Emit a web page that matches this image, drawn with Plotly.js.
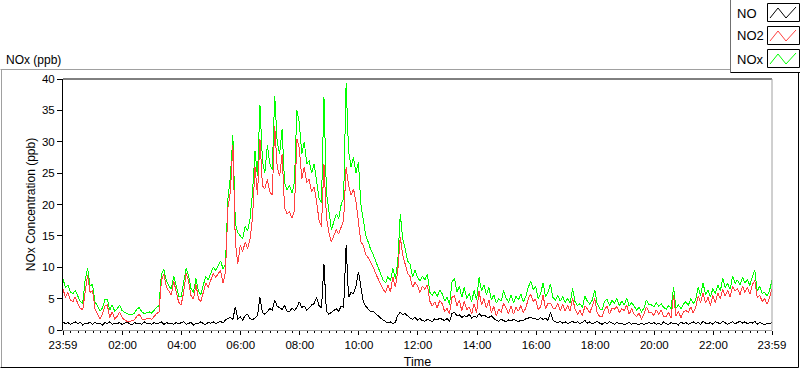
<!DOCTYPE html>
<html>
<head>
<meta charset="utf-8">
<script src="https://cdn.plot.ly/plotly-3.0.1.min.js"></script>
<style>html,body{margin:0;padding:0;background:#fff;}#chart{width:800px;height:369px;}
#chart .scatterlayer path{shape-rendering:crispEdges;}</style>
</head>
<body>
<div id="chart"></div>
<script>
// Sampling grid: minutes from midnight, first sample at 23:59 of the previous day, every 5 minutes
const startMinute = -1;
const stepMinutes = 5;

// NO (ppb)
const no = [
1.3,1.0,1.2,0.9,1.1,1.3,1.0,1.2,0.8,1.1,1.0,1.3,0.9,1.2,1.0,1.1,0.8,1.2,1.0,1.3,0.9,1.1,1.0,1.2,0.9,1.1,1.3,1.0,0.8,1.2,1.0,1.1,0.9,1.3,1.0,1.1,0.9,1.2,1.0,1.1,1.3,0.9,1.2,1.0,1.1,0.9,1.2,1.0,
1.1,1.3,0.9,1.0,1.2,0.8,1.1,1.0,1.3,1.0,0.9,1.2,1.1,1.3,1.0,1.2,1.4,1.1,1.6,1.8,2.0,1.7,3.7,1.8,2.1,1.6,2.3,2.5,1.8,1.6,2.0,2.3,5.2,2.8,2.5,3.0,3.4,3.2,4.8,3.8,3.6,3.3,3.9,3.0,2.9,3.5,3.1,3.6,
4.5,3.6,3.8,3.2,3.5,4.0,4.2,5.2,3.9,3.5,10.5,3.0,2.5,2.8,3.1,3.4,3.0,3.8,3.6,13.5,5.2,6.0,5.8,7.0,9.3,6.5,4.5,3.8,3.3,2.9,3.0,2.6,2.2,1.9,1.6,1.3,1.1,1.3,1.0,1.2,2.4,2.8,2.5,2.6,2.2,1.9,1.7,2.0,
1.6,1.8,1.5,1.4,1.7,1.5,1.3,1.8,1.6,1.9,1.7,1.5,1.8,1.4,2.6,2.8,2.3,2.4,2.0,2.3,2.1,2.5,1.9,2.2,2.0,2.6,2.2,2.4,2.1,2.0,2.3,1.8,1.6,1.4,1.7,1.5,1.3,1.6,1.4,1.7,1.5,1.3,1.6,1.5,1.8,1.9,2.0,1.8,
1.8,1.6,2.0,1.7,1.9,1.5,2.8,1.6,1.3,1.2,1.4,1.1,1.3,1.0,1.2,1.4,1.1,1.3,1.0,1.2,1.5,1.1,1.3,1.0,1.2,1.4,1.1,0.9,1.2,1.0,1.3,1.1,0.9,1.2,1.0,1.1,0.8,1.0,1.2,0.9,1.1,1.0,0.8,1.1,0.9,1.0,1.2,
1.0,1.2,0.9,1.1,0.8,1.3,1.0,0.9,1.2,1.0,1.1,0.8,1.3,1.0,1.2,0.9,1.1,1.3,1.0,1.2,0.9,1.4,1.1,1.0,1.2,0.9,1.3,1.1,1.0,1.4,1.2,0.9,1.1,1.3,1.0,1.2,1.4,1.1,1.3,1.0,1.2,1.1,1.4,0.9,1.2,1.0,0.8,1.1,1.0,1.2
];

// NO2 (ppb)
const no2 = [
6.5,5.2,6.0,4.8,4.5,5.3,4.2,3.5,3.2,6.2,8.8,6.0,6.3,3.4,2.6,1.8,2.5,3.8,4.0,2.0,2.9,1.7,2.2,2.9,2.0,1.6,1.4,1.3,1.5,1.6,2.2,2.5,1.8,1.6,1.8,1.9,1.7,2.2,2.6,2.9,8.0,8.9,6.8,6.2,5.6,7.8,5.9,4.4,
4.0,6.0,9.0,7.8,5.5,4.9,7.3,5.0,4.5,6.0,7.5,6.8,8.0,9.0,8.4,9.0,9.5,7.5,9.2,19.5,22.0,29.5,14.0,10.5,13.5,12.5,14.0,13.0,14.5,18.0,26.0,21.5,30.5,23.0,22.5,24.0,22.0,21.5,32.5,26.0,24.5,28.0,19.5,18.5,18.8,17.8,19.0,30.5,
29.0,24.0,26.0,23.5,24.0,22.0,22.8,20.5,17.5,16.5,26.5,18.0,15.5,14.0,15.0,16.0,15.3,16.5,17.5,26.0,23.0,21.5,22.5,20.5,17.0,14.0,13.5,12.0,11.5,10.8,10.0,9.0,8.2,7.5,6.5,6.0,7.2,6.0,8.5,6.8,9.5,14.8,12.0,10.5,9.0,8.5,6.8,7.6,
7.0,6.0,7.0,6.5,7.2,4.6,3.8,4.5,3.5,4.7,4.2,3.0,3.4,2.6,5.2,5.5,3.8,4.8,3.0,4.6,3.2,3.7,2.5,4.2,2.8,6.2,4.0,5.0,3.5,4.8,2.7,3.8,2.2,3.3,2.8,4.3,3.3,2.6,3.8,2.5,3.6,3.0,3.9,2.8,3.5,5.0,5.7,4.6,
4.9,3.3,3.7,5.6,3.3,4.3,4.3,3.5,3.4,4.2,3.1,4.1,3.0,3.9,3.0,5.1,3.3,2.5,3.1,2.3,3.8,3.4,2.7,3.7,5.0,2.7,2.2,2.2,3.3,3.8,2.5,3.5,3.3,3.7,2.8,3.4,3.1,4.0,2.5,3.4,2.5,2.1,2.7,1.7,2.5,3.7,2.8,
2.8,2.3,3.2,2.5,3.2,2.1,2.1,2.8,1.9,5.6,2.2,3.0,1.9,2.9,3.1,2.8,3.7,2.7,3.6,5.4,4.4,5.9,4.3,5.2,3.9,5.5,4.3,5.9,5.0,6.5,5.4,6.3,5.2,7.0,6.2,6.6,5.6,7.0,6.0,6.8,5.7,7.2,7.9,5.1,5.6,4.5,5.0,4.1,5.1,6.6
];

// NOx (ppb)
const nox = [
8.1,6.8,7.2,6.0,5.8,6.3,5.4,4.6,4.2,8.0,9.9,7.0,7.3,4.5,3.8,3.0,3.5,4.8,4.9,3.2,4.0,3.0,3.4,3.9,3.1,2.8,2.6,2.5,2.4,2.7,3.3,3.6,2.9,2.6,2.8,2.9,2.7,3.2,3.6,3.9,9.0,9.6,7.8,7.0,6.5,8.6,6.8,5.4,
5.3,7.5,9.8,8.7,6.6,6.0,8.2,6.2,5.6,7.2,8.5,8.0,9.0,10.0,9.5,10.2,11.0,9.8,10.5,21.0,24.4,31.0,17.0,15.5,15.0,14.5,16.5,15.8,17.8,22.0,28.5,24.5,35.9,27.0,25.0,29.5,26.5,25.5,37.3,30.0,28.0,32.0,23.5,22.3,23.0,21.8,23.5,35.0,
33.0,28.0,30.0,26.5,27.0,25.0,26.5,24.0,21.0,20.2,37.2,22.0,18.5,16.0,17.2,18.5,17.8,20.0,21.0,39.3,28.5,26.0,27.5,25.0,26.8,20.0,17.5,15.0,14.0,12.8,12.0,11.0,9.8,9.0,8.0,7.5,8.5,7.8,9.8,8.2,11.0,18.5,14.5,13.0,11.0,10.5,8.5,9.5,
8.4,7.8,8.6,8.0,8.9,6.0,5.5,6.2,5.3,6.4,5.8,4.6,5.2,4.0,7.6,8.3,6.0,7.0,5.2,6.8,5.0,5.8,4.5,6.3,4.8,8.4,6.2,7.2,5.6,6.8,4.8,5.6,4.3,5.0,4.6,6.3,5.1,4.4,5.6,4.3,5.4,4.8,5.7,4.5,5.3,6.8,7.8,6.5,
6.9,5.0,5.8,7.5,5.3,6.0,7.3,5.2,4.8,5.5,4.6,5.3,4.4,5.0,4.3,6.6,4.5,3.9,4.2,3.6,5.4,4.6,4.1,4.8,6.4,4.2,3.4,3.2,4.6,4.9,3.9,4.7,4.3,5.0,3.9,4.6,4.0,5.1,3.8,4.4,3.7,3.2,3.6,2.9,3.5,4.8,4.1,
4.0,3.7,4.3,3.8,4.2,3.6,3.3,3.9,3.4,6.8,3.5,4.0,3.4,4.1,4.5,3.9,5.0,4.2,4.8,6.8,5.5,7.5,5.6,6.4,5.3,6.6,5.8,7.2,6.2,8.2,6.8,7.4,6.5,8.6,7.4,8.0,7.2,8.4,7.5,8.0,7.1,8.5,9.5,6.2,7.0,5.8,6.0,5.4,6.3,7.9
];

const seriesNames = ["NO", "NO2", "NOx"];
const seriesColors = ["#000000", "#ff4040", "#00ff00"];

const tickVals = [-1, 120, 240, 360, 480, 600, 720, 840, 960, 1080, 1200, 1320, 1439];
const tickText = ["23:59", "02:00", "04:00", "06:00", "08:00", "10:00", "12:00", "14:00", "16:00", "18:00", "20:00", "22:00", "23:59"];

const times = no.map((_, i) => startMinute + i * stepMinutes);

const FONT = "Liberation Sans, Arial, sans-serif";

// pixel -> paper helpers for decoration
const L = 63, R = 772, T = 79, B = 330;
const px = v => (v - L) / (R - L);
const py = v => (B - v) / (B - T);

const traces = [
  {x: times, y: nox, name: seriesNames[2], line: {color: seriesColors[2]}},
  {x: times, y: no2, name: seriesNames[1], line: {color: seriesColors[1]}},
  {x: times, y: no, name: seriesNames[0], line: {color: seriesColors[0]}}
].map(t => Object.assign({type: "scatter", mode: "lines", showlegend: false, hoverinfo: "skip"}, t, {line: Object.assign({width: 1}, t.line)}));

function line(x0, y0, x1, y1, color) {
  return {type: "line", xref: "paper", yref: "paper", x0: px(x0), y0: py(y0), x1: px(x1), y1: py(y1), line: {color: color, width: 1}, layer: "above"};
}
function rect(x0, y0, x1, y1, lineColor, fill) {
  return {type: "rect", xref: "paper", yref: "paper", x0: px(x0), y0: py(y0), x1: px(x1), y1: py(y1), line: {color: lineColor, width: lineColor ? 1 : 0}, fillcolor: fill || "rgba(0,0,0,0)", layer: "above"};
}

const shapes = [
  // outer panel
  line(0.5, 69.5, 730, 69.5, "#a0a0a0"),
  line(1.5, 69.5, 1.5, 367.5, "#a0a0a0"),
  line(0.5, 367.5, 798.5, 367.5, "#000000"),
  line(798.5, 72, 798.5, 367.5, "#000000"),
  // plot frame top/right
  line(L, T, R, T, "#000000"),
  line(R, T, R, B, "#a0a0a0"),
  // legend box
  rect(730.5, -1, 801, 72.5, null, "#ffffff"),
  line(730.5, -1, 730.5, 72.5, "#707070"),
  line(730.5, 72.5, 801, 72.5, "#000000")
];

const annotations = [
  {text: "NOx (ppb)", xref: "paper", yref: "paper", x: px(4), y: py(60), xanchor: "left", yanchor: "middle", showarrow: false, font: {family: FONT, size: 12, color: "#000"}}
];

const legendRows = [13, 36, 59];
seriesNames.forEach((nm, k) => {
  const cy = legendRows[k];
  annotations.push({text: nm, xref: "paper", yref: "paper", x: px(735), y: py(cy), xanchor: "left", yanchor: "middle", showarrow: false, font: {family: FONT, size: 13, color: "#000"}});
  shapes.push(rect(767.5, cy - 9.5, 799.5, cy + 8.5, "#000000", "#ffffff"));
  const path = "M" + px(770) + "," + py(cy + 5) + " L" + px(778) + "," + py(cy - 5) + " L" + px(786) + "," + py(cy + 5) + " L" + px(796) + "," + py(cy - 6);
  shapes.push({type: "path", xref: "paper", yref: "paper", path: path, line: {color: seriesColors[k], width: 1}, layer: "above"});
});

const layout = {
  width: 800, height: 369,
  margin: {l: L, r: 800 - R, t: T, b: 369 - B, pad: 0},
  paper_bgcolor: "#ffffff", plot_bgcolor: "#ffffff",
  font: {family: FONT, size: 12, color: "#000"},
  showlegend: false,
  xaxis: {
    range: [-1, 1439], tickmode: "array", tickvals: tickVals, ticktext: tickText,
    ticks: "outside", ticklen: 4, tickcolor: "#000", tickwidth: 1,
    minor: {tickmode: "linear", tick0: 0, dtick: 15, ticks: "outside", ticklen: 2, tickcolor: "#000", showgrid: false},
    showgrid: false, zeroline: false, showline: true, linecolor: "#a0a0a0", linewidth: 1,
    tickfont: {family: FONT, size: 11.5, color: "#000"},
    title: {text: "Time", font: {family: FONT, size: 12.5, color: "#000"}, standoff: 8},
    fixedrange: true
  },
  yaxis: {
    range: [0, 40], tickmode: "linear", tick0: 0, dtick: 5,
    ticks: "outside", ticklen: 5, tickcolor: "#000", tickwidth: 1,
    showgrid: false, zeroline: false, showline: true, linecolor: "#000", linewidth: 1,
    tickfont: {family: FONT, size: 11.5, color: "#000"},
    title: {text: "NOx Concentration (ppb)", font: {family: FONT, size: 12, color: "#000"}, standoff: 3},
    fixedrange: true
  },
  shapes: shapes,
  annotations: annotations
};

Plotly.newPlot("chart", traces, layout, {displayModeBar: false, staticPlot: true});
</script>
</body>
</html>
